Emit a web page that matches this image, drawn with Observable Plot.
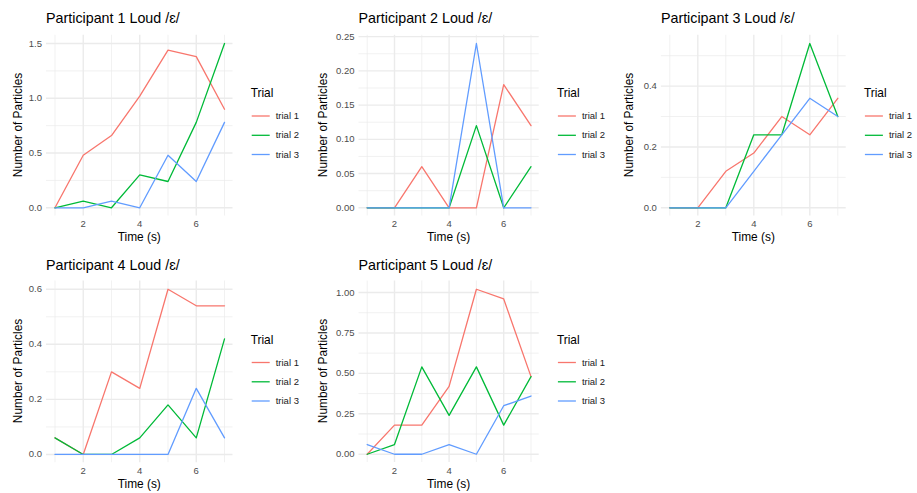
<!DOCTYPE html>
<html><head><meta charset="utf-8">
<script src="https://cdn.jsdelivr.net/npm/d3@7"></script>
<script src="https://cdn.jsdelivr.net/npm/@observablehq/plot@0.6"></script>
<style>
body{margin:0;background:#fff;font-family:"Liberation Sans",Arial,Helvetica,sans-serif;}
#root{position:relative;width:917px;height:493px;overflow:hidden;background:#fff;}
#root svg.plot{position:absolute;left:0;top:0;}
.t{position:absolute;white-space:nowrap;line-height:1;}
</style></head><body><div id="root"></div>
<script>
// ---- data ----
const time = [1, 2, 3, 4, 5, 6, 7];
const trials = ["trial 1", "trial 2", "trial 3"];
const trialColors = ["#F8766D", "#00BA38", "#619CFF"];

const p1_trial1 = [0, 0.48, 0.66, 1.02, 1.44, 1.38, 0.90];
const p1_trial2 = [0, 0.06, 0, 0.30, 0.24, 0.78, 1.50];
const p1_trial3 = [0, 0, 0.06, 0, 0.48, 0.24, 0.78];

const p2_trial1 = [0, 0, 0.06, 0, 0, 0.18, 0.12];
const p2_trial2 = [0, 0, 0, 0, 0.12, 0, 0.06];
const p2_trial3 = [0, 0, 0, 0, 0.24, 0, 0];

const p3_trial1 = [0, 0, 0.12, 0.18, 0.30, 0.24, 0.36];
const p3_trial2 = [0, 0, 0, 0.24, 0.24, 0.54, 0.30];
const p3_trial3 = [0, 0, 0, 0.12, 0.24, 0.36, 0.30];

const p4_trial1 = [0.06, 0, 0.30, 0.24, 0.60, 0.54, 0.54];
const p4_trial2 = [0.06, 0, 0, 0.06, 0.18, 0.06, 0.42];
const p4_trial3 = [0, 0, 0, 0, 0, 0.24, 0.06];

const p5_trial1 = [0, 0.18, 0.18, 0.42, 1.02, 0.96, 0.48];
const p5_trial2 = [0, 0.06, 0.54, 0.24, 0.54, 0.18, 0.48];
const p5_trial3 = [0.06, 0, 0, 0.06, 0, 0.30, 0.36];

const titles = ["Participant 1 Loud /ɛ/", "Participant 2 Loud /ɛ/", "Participant 3 Loud /ɛ/",
                "Participant 4 Loud /ɛ/", "Participant 5 Loud /ɛ/"];

const xTicks = [2, 4, 6];
const xMinor = [1, 3, 5, 7];
const yTicks1 = [0, 0.5, 1.0, 1.5];
const yMinor1 = [0.25, 0.75, 1.25];
const yTicks2 = [0, 0.05, 0.10, 0.15, 0.20, 0.25];
const yMinor2 = [0.025, 0.075, 0.125, 0.175, 0.225];
const yTicks3 = [0, 0.2, 0.4];
const yMinor3 = [0.1, 0.3, 0.5];
const yTicks4 = [0, 0.2, 0.4, 0.6];
const yMinor4 = [0.1, 0.3, 0.5];
const yTicks5 = [0, 0.25, 0.50, 0.75, 1.00];
const yMinor5 = [0.125, 0.375, 0.625, 0.875];

const xLabel = "Time (s)";
const yLabel = "Number of Particles";
const legendTitle = "Trial";

// ---- layout ----
const W = 917, H = 493;
const panels = [
  {series: [p1_trial1, p1_trial2, p1_trial3], yTicks: yTicks1, yMinor: yMinor1, fmt: ".1f",
   frame: {l: 46, r: 232.5, t: 34.8, b: 215.5}, ox: 0, oy: 0},
  {series: [p2_trial1, p2_trial2, p2_trial3], yTicks: yTicks2, yMinor: yMinor2, fmt: ".2f",
   frame: {l: 358.5, r: 538.7, t: 34.8, b: 215.5}, ox: 305, oy: 0},
  {series: [p3_trial1, p3_trial2, p3_trial3], yTicks: yTicks3, yMinor: yMinor3, fmt: ".1f",
   frame: {l: 660.9, r: 845.7, t: 34.8, b: 215.5}, ox: 611, oy: 0},
  {series: [p4_trial1, p4_trial2, p4_trial3], yTicks: yTicks4, yMinor: yMinor4, fmt: ".1f",
   frame: {l: 46, r: 232.5, t: 280.5, b: 462.2}, ox: 0, oy: 246.5},
  {series: [p5_trial1, p5_trial2, p5_trial3], yTicks: yTicks5, yMinor: yMinor5, fmt: ".2f",
   frame: {l: 358.5, r: 538.7, t: 280.5, b: 462.0}, ox: 305, oy: 246.5}
];

const FONT = '"Liberation Sans",Arial,Helvetica,sans-serif';
const root = document.getElementById("root");
function addText(txt, x, y, style, anchor) {
  const d = document.createElement("div");
  d.className = "t";
  d.textContent = txt;
  Object.assign(d.style, style);
  d.style.left = x + "px";
  d.style.top = y + "px";
  d.style.transform = anchor || "translate(0,-50%)";
  root.appendChild(d);
  return d;
}

// one overlay svg for legend keys
const NS = "http://www.w3.org/2000/svg";
const keySvg = document.createElementNS(NS, "svg");
keySvg.setAttribute("width", W);
keySvg.setAttribute("height", H);
keySvg.style.position = "absolute";
keySvg.style.left = "0px";
keySvg.style.top = "0px";

panels.forEach((p, i) => {
  const rows = [];
  p.series.forEach((vals, k) => vals.forEach((v, j) => rows.push({time: time[j], value: v, trial: trials[k]})));
  const all = p.series.flat();
  const lo = d3.min(all), hi = d3.max(all), pad = (hi - lo) * 0.05;
  const f = p.frame;
  const chart = Plot.plot({
    className: "plot",
    width: W, height: H,
    marginLeft: f.l, marginRight: W - f.r, marginTop: f.t, marginBottom: H - f.b,
    style: {fontFamily: FONT, fontSize: "9.5px", color: "#4d4d4d", background: "transparent", overflow: "visible"},
    x: {domain: [0.7, 7.3]},
    y: {domain: [lo - pad, hi + pad]},
    color: {domain: trials, range: trialColors},
    marks: [
      Plot.ruleY(p.yMinor, {stroke: "#ebebeb", strokeWidth: 0.7}),
      Plot.ruleX(xMinor, {stroke: "#ebebeb", strokeWidth: 0.7}),
      Plot.ruleY(p.yTicks, {stroke: "#ebebeb", strokeWidth: 1.4}),
      Plot.ruleX(xTicks, {stroke: "#ebebeb", strokeWidth: 1.4}),
      Plot.axisX(xTicks, {tickSize: 0, tickPadding: 4.5, label: null, fill: "#4d4d4d"}),
      Plot.axisY(p.yTicks, {tickSize: 0, tickPadding: 4.5, label: null, tickFormat: d3.format(p.fmt), fill: "#4d4d4d"}),
      Plot.line(rows, {x: "time", y: "value", stroke: "trial", z: "trial", strokeWidth: 1.3})
    ]
  });
  chart.classList.add("plot");
  chart.style.position = "absolute";
  chart.style.left = "0px";
  chart.style.top = "0px";
  root.appendChild(chart);

  const cx = (f.l + f.r) / 2, cy = (f.t + f.b) / 2;
  addText(titles[i], f.l, p.oy + 18, {fontSize: "14.3px", color: "#000"});
  addText(xLabel, cx, p.oy + 238, {fontSize: "11.9px", color: "#000"}, "translate(-50%,-50%)");
  addText(yLabel, p.ox + 18.5, cy, {fontSize: "11.9px", color: "#000"}, "translate(-50%,-50%) rotate(-90deg)");
  // legend
  const lx = f.r + 18.2;
  addText(legendTitle, lx, p.oy + 94.3, {fontSize: "11.9px", color: "#000"});
  const rowsY = [116, 135.3, 154.5];
  trials.forEach((t, k) => {
    const ln = document.createElementNS(NS, "line");
    ln.setAttribute("x1", lx + 1);
    ln.setAttribute("x2", lx + 19);
    ln.setAttribute("y1", p.oy + rowsY[k]);
    ln.setAttribute("y2", p.oy + rowsY[k]);
    ln.setAttribute("stroke", trialColors[k]);
    ln.setAttribute("stroke-width", 1.3);
    keySvg.appendChild(ln);
    addText(t, lx + 25, p.oy + rowsY[k], {fontSize: "9.5px", color: "#1a1a1a"});
  });
});
root.appendChild(keySvg);
</script></body></html>
